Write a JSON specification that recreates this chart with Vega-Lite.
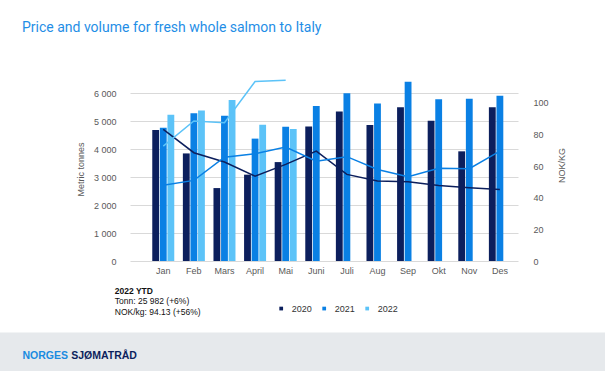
{
  "$schema": "https://vega.github.io/schema/vega-lite/v6.json",
  "autosize": {"type": "none"},
  "width": 388,
  "height": 190,
  "padding": {"left": 130, "top": 71, "right": 87, "bottom": 110},
  "background": "#ffffff",
  "config": {"view": {"stroke": null}, "font": "Liberation Sans"},
  "title": {
    "text": "Price and volume for fresh whole salmon to Italy",
    "anchor": "start",
    "frame": "group",
    "orient": "top",
    "offset": 0,
    "dx": -108,
    "dy": 33.6,
    "baseline": "alphabetic",
    "font": "Roboto",
    "fontSize": 14,
    "fontWeight": "normal",
    "color": "#1f8ee6"
  },
  "data": {
    "values": [
      {"month": "Jan", "year": "2020", "tonnes": 4690, "price": 83.1},
      {"month": "Feb", "year": "2020", "tonnes": 3850, "price": 68.4},
      {"month": "Mars", "year": "2020", "tonnes": 2610, "price": 62.5},
      {"month": "April", "year": "2020", "tonnes": 3090, "price": 53.6},
      {"month": "Mai", "year": "2020", "tonnes": 3540, "price": 61.0},
      {"month": "Juni", "year": "2020", "tonnes": 4810, "price": 69.4},
      {"month": "Juli", "year": "2020", "tonnes": 5355, "price": 54.7},
      {"month": "Aug", "year": "2020", "tonnes": 4865, "price": 50.5},
      {"month": "Sep", "year": "2020", "tonnes": 5500, "price": 50.0},
      {"month": "Okt", "year": "2020", "tonnes": 5020, "price": 47.7},
      {"month": "Nov", "year": "2020", "tonnes": 3925, "price": 46.3},
      {"month": "Des", "year": "2020", "tonnes": 5500, "price": 45.2},
      {"month": "Jan", "year": "2021", "tonnes": 4770, "price": 47.9},
      {"month": "Feb", "year": "2021", "tonnes": 5285, "price": 50.9},
      {"month": "Mars", "year": "2021", "tonnes": 5200, "price": 65.6},
      {"month": "April", "year": "2021", "tonnes": 4380, "price": 67.8},
      {"month": "Mai", "year": "2021", "tonnes": 4805, "price": 72.0},
      {"month": "Juni", "year": "2021", "tonnes": 5545, "price": 63.0},
      {"month": "Juli", "year": "2021", "tonnes": 6000, "price": 65.9},
      {"month": "Aug", "year": "2021", "tonnes": 5640, "price": 57.8},
      {"month": "Sep", "year": "2021", "tonnes": 6415, "price": 53.2},
      {"month": "Okt", "year": "2021", "tonnes": 5785, "price": 58.5},
      {"month": "Nov", "year": "2021", "tonnes": 5810, "price": 58.3},
      {"month": "Des", "year": "2021", "tonnes": 5915, "price": 69.4},
      {"month": "Jan", "year": "2022", "tonnes": 5230, "price": 72.6},
      {"month": "Feb", "year": "2022", "tonnes": 5385, "price": 88.4},
      {"month": "Mars", "year": "2022", "tonnes": 5765, "price": 87.3},
      {"month": "April", "year": "2022", "tonnes": 4875, "price": 113.3},
      {"month": "Mai", "year": "2022", "tonnes": 4727, "price": 114.1}
    ]
  },
  "resolve": {"scale": {"y": "independent"}, "axis": {"x": "independent", "y": "independent"}},
  "layer": [
    {
      "mark": {"type": "bar"},
      "encoding": {
        "x": {
          "field": "month", "type": "ordinal",
          "scale": {"domain": ["Jan","Feb","Mars","April","Mai","Juni","Juli","Aug","Sep","Okt","Nov","Des"], "paddingInner": 0.281, "paddingOuter": 0.48, "align": 0.758},
          "axis": {
            "orient": "bottom", "labelFontSize": 9, "labelColor": "#595959", "labelPadding": 5,
            "ticks": false, "domain": false, "grid": false, "labelAngle": 0,
            "title": "2022 YTD", "titleFontSize": 8.5, "titleFontWeight": "bold", "titleColor": "#111111",
            "titleX": -15.7, "titleY": 32, "titleAlign": "left", "titleBaseline": "alphabetic", "titleAngle": 0
          }
        },
        "xOffset": {"field": "year", "type": "nominal", "scale": {"domain": ["2020","2021","2022"], "paddingInner": 0.1}},
        "y": {
          "field": "tonnes", "type": "quantitative",
          "scale": {"domain": [0, 6800], "nice": false},
          "axis": {
            "orient": "left", "values": [0,1000,2000,3000,4000,5000,6000],
            "labelExpr": "replace(format(datum.value, ','), ',', ' ')",
            "labelFontSize": 9, "labelColor": "#595959", "labelPadding": 14,
            "ticks": false, "domain": false, "grid": true, "gridColor": "#d9d9d9", "gridWidth": 1,
            "title": "Metric tonnes", "titleFontSize": 9, "titleFontWeight": "normal", "titleColor": "#595959",
            "titleX": -49.5, "titleY": 98, "titleAngle": 270, "titleAlign": "center", "titleBaseline": "middle"
          }
        },
        "color": {
          "field": "year", "type": "nominal",
          "scale": {"domain": ["2020","2021","2022"], "range": ["#0c1f5d", "#0a80e4", "#5cc3f8"]},
          "legend": {
            "orient": "none", "legendX": 146.7, "legendY": 232.8, "direction": "horizontal",
            "title": null, "symbolType": "square", "symbolSize": 14, "symbolStrokeWidth": 0,
            "labelFontSize": 9, "labelColor": "#333333", "labelOffset": 6, "columnPadding": 7, "padding": 0
          }
        }
      }
    },
    {
      "transform": [{"filter": "datum.year == '2020'"}],
      "mark": {"type": "line", "strokeWidth": 1.5},
      "encoding": {
        "x": {
          "field": "month", "type": "ordinal",
          "scale": {"domain": ["Jan","Feb","Mars","April","Mai","Juni","Juli","Aug","Sep","Okt","Nov","Des"]},
          "axis": {
            "orient": "bottom", "labels": false, "domain": false, "grid": false,
            "ticks": true, "values": ["Mai"], "tickSize": 45, "tickWidth": 640, "tickColor": "#e6e9ec", "tickOffset": 17, "tickOpacity": 1,
            "offset": 71,
            "title": "NORGES", "titleFont": "Liberation Sans", "titleFontSize": 10.5, "titleFontWeight": "bold", "titleColor": "#1a8be0",
            "titleX": -108, "titleY": 26.3, "titleAlign": "left", "titleBaseline": "alphabetic", "titleAngle": 0
          }
        },
        "y": {
          "field": "price", "type": "quantitative",
          "scale": {"domain": [0, 120], "nice": false},
          "axis": {
            "orient": "right", "values": [0,20,40,60,80,100],
            "labelFontSize": 9, "labelColor": "#595959", "labelPadding": 15,
            "ticks": false, "domain": false, "grid": false,
            "title": "NOK/KG", "titleFontSize": 9, "titleFontWeight": "normal", "titleColor": "#595959",
            "titleX": 43, "titleY": 94, "titleAngle": 270, "titleAlign": "center", "titleBaseline": "middle"
          }
        },
        "color": {"field": "year", "type": "nominal", "legend": null}
      }
    },
    {
      "transform": [{"filter": "datum.year == '2021'"}],
      "mark": {"type": "line", "strokeWidth": 1.5},
      "encoding": {
        "x": {
          "field": "month", "type": "ordinal",
          "scale": {"domain": ["Jan","Feb","Mars","April","Mai","Juni","Juli","Aug","Sep","Okt","Nov","Des"]},
          "axis": {
            "orient": "bottom", "labels": false, "domain": false, "grid": false, "ticks": false,
            "title": "SJØMATRÅD", "titleFont": "Liberation Sans", "titleFontSize": 10.5, "titleFontWeight": "bold", "titleColor": "#0c1f5d",
            "titleX": -59.3, "titleY": 97.3, "titleAlign": "left", "titleBaseline": "alphabetic", "titleAngle": 0
          }
        },
        "y": {"field": "price", "type": "quantitative", "scale": {"domain": [0, 120], "nice": false}, "axis": null},
        "color": {"field": "year", "type": "nominal", "legend": null}
      }
    },
    {
      "transform": [{"filter": "datum.year == '2022'"}],
      "mark": {"type": "line", "strokeWidth": 1.5},
      "encoding": {
        "x": {
          "field": "month", "type": "ordinal",
          "scale": {"domain": ["Jan","Feb","Mars","April","Mai","Juni","Juli","Aug","Sep","Okt","Nov","Des"]},
          "axis": {
            "orient": "bottom", "labels": false, "domain": false, "grid": false, "ticks": false,
            "title": ["Tonn: 25 982 (+6%)", "NOK/kg: 94.13 (+56%)"], "titleFontSize": 8.5, "titleFontWeight": "normal", "titleColor": "#111111",
            "titleLineHeight": 11,
            "titleX": -15.7, "titleY": 42.5, "titleAlign": "left", "titleBaseline": "alphabetic", "titleAngle": 0
          }
        },
        "y": {"field": "price", "type": "quantitative", "scale": {"domain": [0, 120], "nice": false}, "axis": null},
        "color": {"field": "year", "type": "nominal", "legend": null}
      }
    }
  ]
}
